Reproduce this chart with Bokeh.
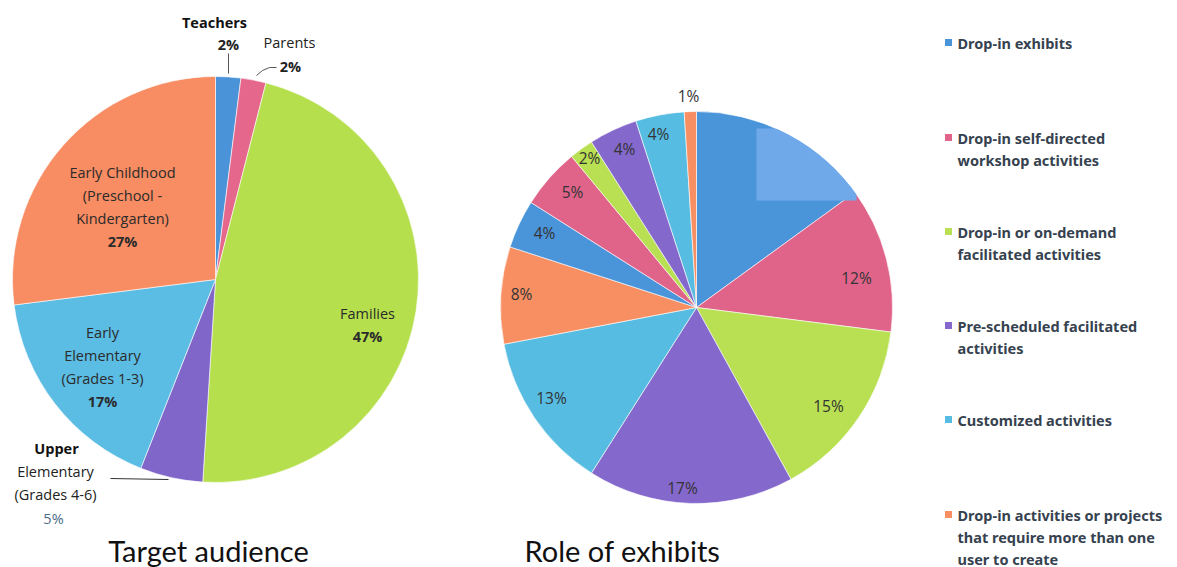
import math
from bokeh.plotting import figure
from bokeh.models import Range1d
from bokeh.core.properties import value
from bokeh.embed import file_html
from bokeh.resources import INLINE

# ---------------- data ----------------
audience_labels = ["Teachers", "Parents", "Families", "Upper Elementary (Grades 4-6)",
                   "Early Elementary (Grades 1-3)", "Early Childhood (Preschool - Kindergarten)"]
audience_values = [2, 2, 47, 5, 17, 27]
audience_colors = ["#4B93D8", "#E5688C", "#B5DF4C", "#8066C9", "#5BBCE4", "#F88C62"]

role_categories = ["Drop-in exhibits", "Drop-in self-directed workshop activities",
                   "Drop-in or on-demand facilitated activities", "Pre-scheduled facilitated activities",
                   "Customized activities", "Drop-in activities or projects that require more than one user to create"]
role_values = [15, 12, 15, 17, 13, 8, 4, 5, 2, 4, 4, 1]
role_colors = ["#4A94DA", "#E0648A", "#B8E052", "#8468CC", "#56BCE2", "#F88F63"] * 2

legend_lines = [["Drop-in exhibits"],
                ["Drop-in self-directed", "workshop activities"],
                ["Drop-in or on-demand", "facilitated activities"],
                ["Pre-scheduled facilitated", "activities"],
                ["Customized activities"],
                ["Drop-in activities or projects", "that require more than one", "user to create"]]
legend_colors = ["#4A94DA", "#E0648A", "#B8E052", "#8468CC", "#56BCE2", "#F88F63"]

W, H = 1177, 567
def Y(y):  # image row -> plot y
    return H - y

p = figure(width=W, height=H, output_backend="svg", toolbar_location=None,
           x_range=Range1d(0, W), y_range=Range1d(0, H), min_border=0)
p.axis.visible = False
p.grid.visible = False
p.outline_line_color = None
p.background_fill_color = "white"

def wedges(values, colors, cx, cy, r):
    tot = float(sum(values))
    starts, ends = [], []
    cum = 0.0
    for v in values:
        starts.append(math.pi / 2 - 2 * math.pi * cum / tot)
        cum += v
        ends.append(math.pi / 2 - 2 * math.pi * cum / tot)
    p.wedge(x=[cx] * len(values), y=[Y(cy)] * len(values), radius=r, radius_units="screen",
            start_angle=starts, end_angle=ends, direction="clock",
            fill_color=colors, line_color="white", line_width=0.6)

# ---- left pie ----
wedges(audience_values, audience_colors, 215, 279, 203)

def txt(x, y, s, size=15, bold=False, color="#2B2B2B", font="Open Sans", align="center"):
    p.text(x=[x], y=[Y(y)], text=[s], text_font=value(font), text_font_size=f"{size}px",
           text_font_style="bold" if bold else "normal", text_color=color,
           text_align=align, text_baseline="middle")

# leader lines
p.line(x=[228, 228], y=[Y(53), Y(73)], line_color="#555555", line_width=1)
p.line(x=[256, 262, 269, 276], y=[Y(75), Y(70), Y(67), Y(67)], line_color="#555555", line_width=1)
p.line(x=[110, 168], y=[Y(478), Y(479)], line_color="#333333", line_width=1.2)

LS = 14.5
txt(214, 22, "Teachers", LS, True, "#111111")
txt(228, 44, f"{audience_values[0]}%", LS, True, "#222222")
txt(289, 42, "Parents", LS, False, "#222222")
txt(290, 66, f"{audience_values[1]}%", LS, True, "#222222")
txt(122, 172, "Early Childhood", LS)
txt(122, 195, "(Preschool -", LS)
txt(122, 218, "Kindergarten)", LS)
txt(122, 241, f"{audience_values[5]}%", LS, True)
txt(367, 313, "Families", LS)
txt(367, 336, f"{audience_values[2]}%", LS, True)
txt(102, 332, "Early", LS)
txt(102, 355, "Elementary", LS)
txt(102, 378, "(Grades 1-3)", LS)
txt(102, 401, f"{audience_values[4]}%", LS, True)
txt(56, 448, "Upper", LS, True, "#111111")
txt(55, 471, "Elementary", LS, False, "#222222")
txt(55, 494, "(Grades 4-6)", LS, False, "#222222")
txt(53, 518, f"{audience_values[3]}%", LS, False, "#4A6A8A")
txt(208, 550, "Target audience", 29, False, "#111111", "Lato")

# ---- right pie ----
wedges(role_values, role_colors, 696, 307, 196)
# lighter patch artifact in first slice, trimmed back to the circle with a white ring
p.quad(left=[756], right=[856], top=[Y(128)], bottom=[Y(200)], fill_color="#70A9E9", line_color=None)
p.annular_wedge(x=[696], y=[Y(307)], inner_radius=196, outer_radius=270, inner_radius_units="screen",
                outer_radius_units="screen", start_angle=math.radians(28), end_angle=math.radians(82),
                fill_color="white", line_color=None)

role_label_pos = [None, (856, 277), (828, 405), (682, 487), (551, 397), (521, 293),
                  (544, 232), (572, 191), (589, 157), (624, 148), (658, 133), (688, 95)]
for v, pos in zip(role_values, role_label_pos):
    if pos is None:
        continue
    txt(pos[0], pos[1], f"{v}%", 15.5, False, "#333333")
txt(622, 550, "Role of exhibits", 29, False, "#111111", "Lato")

# ---- legend ----
leg_y = [42, 137, 231, 325, 419, 514]
p.scatter(x=[948] * 6, y=[Y(y) for y in leg_y], marker="square", size=7,
          fill_color=legend_colors, line_color=None)
for lines, y0 in zip(legend_lines, leg_y):
    for i, s in enumerate(lines):
        txt(957, y0 + i * 22, s, 14.5, True, "#36424F", "Noto Sans", "left")

open("out.html", "w").write(file_html(p, INLINE))
